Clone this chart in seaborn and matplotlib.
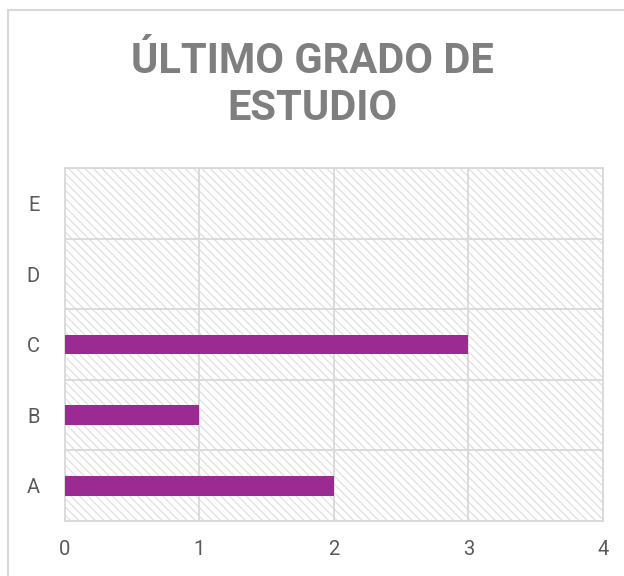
import matplotlib
matplotlib.use("Agg")
import matplotlib.pyplot as plt
import seaborn as sns
import pandas as pd

# data
categorias = ["A", "B", "C", "D", "E"]
valores = [2, 1, 3, 0, 0]
ticks_x = [0, 1, 2, 3, 4]
titulo = "ÚLTIMO GRADO DE\nESTUDIO"

df = pd.DataFrame({"grado": categorias, "n": valores})

sns.set_style("white")
plt.rcParams["font.family"] = ["Roboto", "DejaVu Sans"]
plt.rcParams["hatch.color"] = "#e0e0e0"
plt.rcParams["hatch.linewidth"] = 0.9

fig = plt.figure(figsize=(6.24, 5.76), dpi=100)
ax = fig.add_axes([0.104, 0.0955, 0.862, 0.6125])

# hatched plot area background
fondo = plt.Rectangle((0, 0), 1, 1, transform=ax.transAxes, facecolor="white",
                      edgecolor="#e0e0e0", hatch="\\\\\\\\", linewidth=0, zorder=0)
ax.add_patch(fondo)

# order E at top, A at bottom
orden = categorias[::-1]
sns.barplot(data=df, x="n", y="grado", order=orden, color="#9b2a93",
            width=0.28, saturation=1, linewidth=0, ax=ax, zorder=3)

ax.set_xlim(0, 4)
ax.set_xticks(ticks_x)
ax.set_xlabel("")
ax.set_ylabel("")
ax.set_yticks(range(len(orden)))
ax.set_yticks([i + 0.5 for i in range(-1, len(orden))], minor=True)
ax.xaxis.grid(True, color="#d9d9d9", linewidth=1.3, zorder=1)
ax.yaxis.grid(False, which="major")
ax.yaxis.grid(True, which="minor", color="#d9d9d9", linewidth=1.3)
ax.set_axisbelow(True)
ax.set_ylim(len(orden) - 0.5, -0.5)
ax.tick_params(axis="both", which="major", length=0, labelsize=14.5,
               colors="#595959")
ax.tick_params(axis="y", which="minor", length=7, width=1.3,
               color="#d9d9d9", direction="out")
ax.tick_params(axis="x", pad=14)
ax.tick_params(axis="y", which="major", pad=18)
for s in ax.spines.values():
    s.set_color("#d9d9d9")
    s.set_linewidth(1.3)

fig.text(0.5, 0.852, titulo, ha="center", va="center", fontsize=30,
         fontweight="bold", color="#7f7f7f", linespacing=1.2)

# chart area border
fig.patches.append(plt.Rectangle((8 / 624, -0.1), 2, 1.1 - 10 / 576,
                                 transform=fig.transFigure, fill=False,
                                 edgecolor="#d9d9d9", linewidth=1.5))

fig.savefig("out.png", dpi=100)
